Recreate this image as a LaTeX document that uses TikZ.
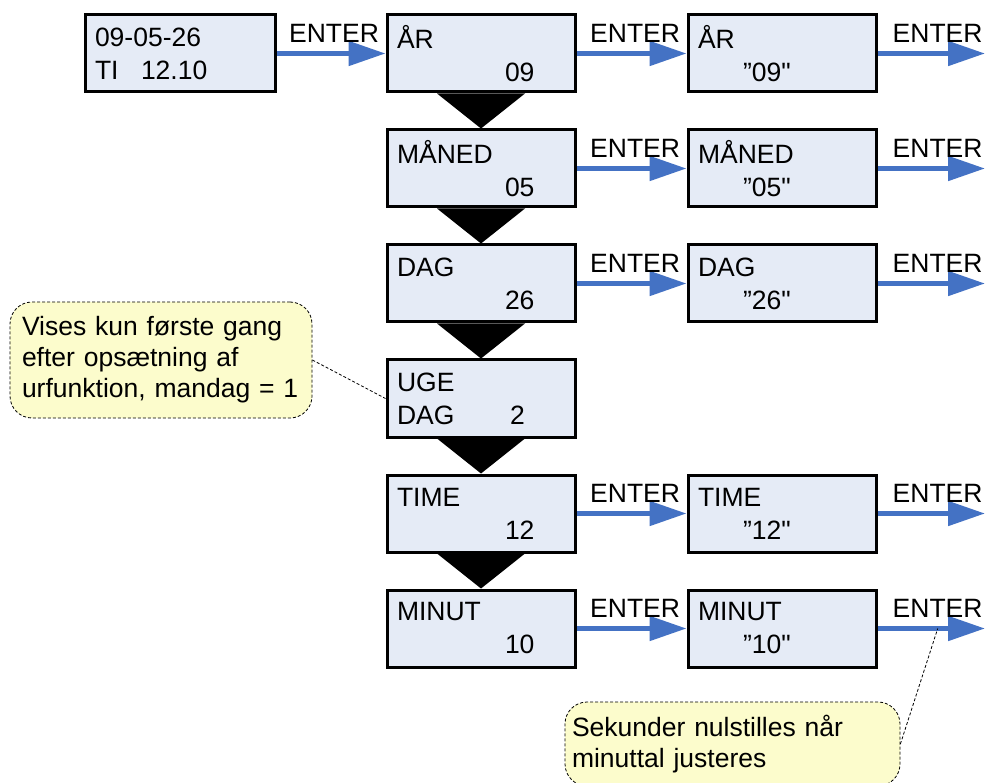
\documentclass[tikz,border=0pt]{standalone}
\usepackage{fontspec}
\setmainfont{Liberation Sans}
\definecolor{LcdFill}{HTML}{E5EBF6}
\definecolor{EnterBlue}{HTML}{4472C4}
\definecolor{NoteFill}{HTML}{FCFCCC}
\usetikzlibrary{calc, arrows.meta}

\begin{document}
\begin{tikzpicture}[x=1pt, y=-1pt,
    lcd/.style={draw, line width=3pt, fill=LcdFill, minimum width=188pt,
        minimum height=77pt, text width=168pt, align=left, inner sep=0pt,
        font=\fontsize{26.5}{33}\selectfont},
    enterarrow/.style={draw=EnterBlue, line width=5pt,
        -{Triangle[length=37pt, width=24pt]}},
    enterlbl/.style={anchor=base east, inner sep=0pt, xshift=-4pt, yshift=11pt,
        font=\fontsize{26.5}{30}\selectfont},
    note/.style={draw, dash pattern=on 3pt off 2pt, line width=0.8pt,
        rounded corners=22pt, fill=NoteFill, align=left, inner sep=0pt,
        font=\fontsize{26.5}{31}\selectfont},
    noteline/.style={draw, dash pattern=on 3pt off 2pt, line width=0.8pt}]

\clip (0,0) rectangle (985,783);

% display and first column
\node[lcd, minimum width=190pt, text width=170pt] (now) at (180,53.5)
    {09-05-26\\\makebox[46pt][l]{TI}12.10};
\node[lcd] (aar) at (481,53.5) {ÅR\\\hspace*{108pt}09};
\node[lcd] (maaned) at (481,168.5) {MÅNED\\\hspace*{108pt}05};
\node[lcd] (dag) at (481,283.5) {DAG\\\hspace*{108pt}26};
\node[lcd] (uge) at (481,398.5) {UGE\\\makebox[113pt][l]{DAG}2};
\node[lcd] (time) at (481,513.5) {TIME\\\hspace*{108pt}12};
\node[lcd] (minut) at (481,628.5) {MINUT\\\hspace*{108pt}10};

% second column
\node[lcd] (aarset) at (782,53.5) {ÅR\\\hspace*{45pt}”09\textquotedbl};
\node[lcd] (maanedset) at (782,168.5) {MÅNED\\\hspace*{45pt}”05\textquotedbl};
\node[lcd] (dagset) at (782,283.5) {DAG\\\hspace*{45pt}”26\textquotedbl};
\node[lcd] (timeset) at (782,513.5) {TIME\\\hspace*{45pt}”12\textquotedbl};
\node[lcd] (minutset) at (782,628.5) {MINUT\\\hspace*{45pt}”10\textquotedbl};

\coordinate (aarout) at (985,53.5);
\coordinate (maanedout) at (985,168.5);
\coordinate (dagout) at (985,283.5);
\coordinate (timeout) at (985,513.5);
\coordinate (minutout) at (985,628.5);

% down steps
\foreach \a/\b in {aar/maaned, maaned/dag, dag/uge, uge/time, time/minut}
    \fill ($(\a.south)+(-44,0)$) -- ($(\a.south)+(44,0)$) -- (\b.north) -- cycle;

% ENTER arrows
\foreach \a/\b in {now/aar, aar/aarset, maaned/maanedset, dag/dagset,
        time/timeset, minut/minutset}
    \draw[enterarrow] (\a.east) -- node[enterlbl, pos=1] {ENTER} (\b.west);
\foreach \a in {aarset, maanedset, dagset, timeset}
    \draw[enterarrow] (\a.east) -- node[enterlbl, pos=1, xshift=4pt] {ENTER} (\a.east -| aarout);
\draw[enterarrow] (minutset.east) -- coordinate[pos=0.56] (minutpt)
    node[enterlbl, pos=1, xshift=4pt] {ENTER} (minutout);

% notes
\node[note, minimum width=302pt, minimum height=116pt, text width=278pt]
    (firstnote) at (161,360)
    {Vises kun første gang\\efter opsætning af\\urfunktion, mandag = 1};
\draw[noteline] (firstnote.east) -- (uge.west);

\node[note, minimum width=335pt, minimum height=84pt, text width=321pt]
    (secondnote) at (732.5,744)
    {Sekunder nulstilles når\\minuttal justeres};
\draw[noteline] (secondnote.east) -- (minutpt);

\end{tikzpicture}
\end{document}
